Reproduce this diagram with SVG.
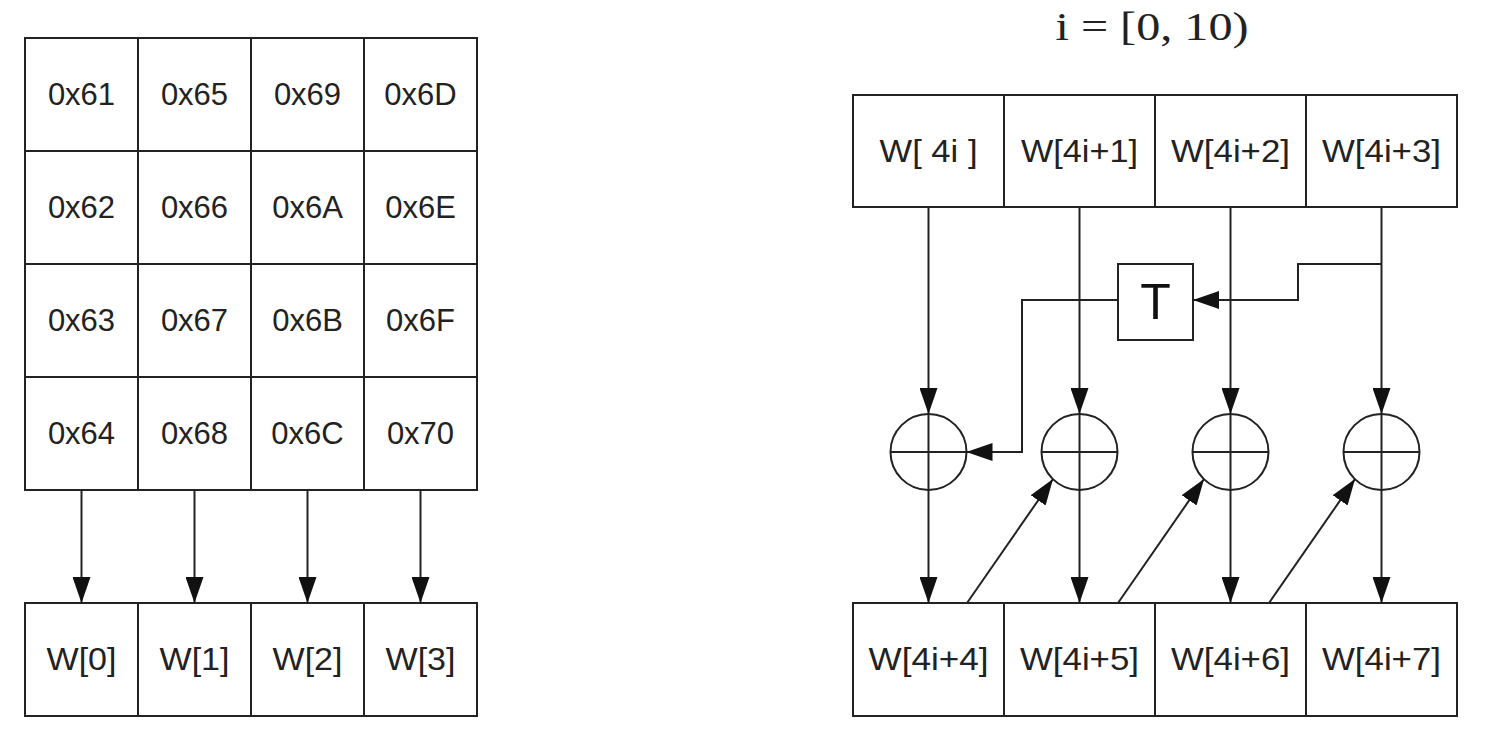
<svg xmlns="http://www.w3.org/2000/svg" width="1488" height="752" viewBox="0 0 1488 752">
<style>
.box{fill:#fff;stroke:#222;stroke-width:2}
.t{font-family:"Liberation Sans",Arial,sans-serif;font-size:31px;fill:#222;text-anchor:middle;dominant-baseline:central}
.ln{fill:none;stroke:#222;stroke-width:2}
.circ{fill:none;stroke:#222;stroke-width:2}
</style>
<defs>
<marker id="ah" markerUnits="userSpaceOnUse" markerWidth="26" markerHeight="18" viewBox="0 0 26 18" refX="26" refY="9" orient="auto">
<path d="M0,0 L26,9 L0,18 Z" fill="#111"/>
</marker>
</defs>
<rect width="1488" height="752" fill="#fff"/>

<g id="state-grid">
<rect class="box" x="25" y="38" width="113" height="113"/><text class="t" x="81.5" y="94.5">0x61</text>
<rect class="box" x="138" y="38" width="113" height="113"/><text class="t" x="194.5" y="94.5">0x65</text>
<rect class="box" x="251" y="38" width="113" height="113"/><text class="t" x="307.5" y="94.5">0x69</text>
<rect class="box" x="364" y="38" width="113" height="113"/><text class="t" x="420.5" y="94.5">0x6D</text>
<rect class="box" x="25" y="151" width="113" height="113"/><text class="t" x="81.5" y="207.5">0x62</text>
<rect class="box" x="138" y="151" width="113" height="113"/><text class="t" x="194.5" y="207.5">0x66</text>
<rect class="box" x="251" y="151" width="113" height="113"/><text class="t" x="307.5" y="207.5">0x6A</text>
<rect class="box" x="364" y="151" width="113" height="113"/><text class="t" x="420.5" y="207.5">0x6E</text>
<rect class="box" x="25" y="264" width="113" height="113"/><text class="t" x="81.5" y="320.5">0x63</text>
<rect class="box" x="138" y="264" width="113" height="113"/><text class="t" x="194.5" y="320.5">0x67</text>
<rect class="box" x="251" y="264" width="113" height="113"/><text class="t" x="307.5" y="320.5">0x6B</text>
<rect class="box" x="364" y="264" width="113" height="113"/><text class="t" x="420.5" y="320.5">0x6F</text>
<rect class="box" x="25" y="377" width="113" height="113"/><text class="t" x="81.5" y="433.5">0x64</text>
<rect class="box" x="138" y="377" width="113" height="113"/><text class="t" x="194.5" y="433.5">0x68</text>
<rect class="box" x="251" y="377" width="113" height="113"/><text class="t" x="307.5" y="433.5">0x6C</text>
<rect class="box" x="364" y="377" width="113" height="113"/><text class="t" x="420.5" y="433.5">0x70</text>
</g>

<g id="w0-3">
<rect class="box" x="25" y="603" width="113" height="113"/><text class="t" x="81.5" y="659.5" textLength="70" lengthAdjust="spacingAndGlyphs">W[0]</text>
<rect class="box" x="138" y="603" width="113" height="113"/><text class="t" x="194.5" y="659.5" textLength="70" lengthAdjust="spacingAndGlyphs">W[1]</text>
<rect class="box" x="251" y="603" width="113" height="113"/><text class="t" x="307.5" y="659.5" textLength="70" lengthAdjust="spacingAndGlyphs">W[2]</text>
<rect class="box" x="364" y="603" width="113" height="113"/><text class="t" x="420.5" y="659.5" textLength="70" lengthAdjust="spacingAndGlyphs">W[3]</text>
</g>

<g id="title">
<text x="1152" y="40" font-family="'Liberation Serif','DejaVu Serif',serif" font-size="40" fill="#222" text-anchor="middle" textLength="193" lengthAdjust="spacingAndGlyphs">i = [0, 10)</text>
</g>

<g id="w-top">
<rect class="box" x="853" y="95" width="151" height="112"/><text class="t" x="928.5" y="151" xml:space="preserve" textLength="98" lengthAdjust="spacingAndGlyphs">W[ 4i ]</text>
<rect class="box" x="1004" y="95" width="151" height="112"/><text class="t" x="1079.5" y="151" textLength="117" lengthAdjust="spacingAndGlyphs">W[4i+1]</text>
<rect class="box" x="1155" y="95" width="151" height="112"/><text class="t" x="1230.5" y="151" textLength="119" lengthAdjust="spacingAndGlyphs">W[4i+2]</text>
<rect class="box" x="1306" y="95" width="151" height="112"/><text class="t" x="1381.5" y="151" textLength="119" lengthAdjust="spacingAndGlyphs">W[4i+3]</text>
</g>

<g id="w-bottom">
<rect class="box" x="853" y="603" width="151" height="113"/><text class="t" x="928.5" y="659.5" textLength="120" lengthAdjust="spacingAndGlyphs">W[4i+4]</text>
<rect class="box" x="1004" y="603" width="151" height="113"/><text class="t" x="1079.5" y="659.5" textLength="119" lengthAdjust="spacingAndGlyphs">W[4i+5]</text>
<rect class="box" x="1155" y="603" width="151" height="113"/><text class="t" x="1230.5" y="659.5" textLength="119" lengthAdjust="spacingAndGlyphs">W[4i+6]</text>
<rect class="box" x="1306" y="603" width="151" height="113"/><text class="t" x="1381.5" y="659.5" textLength="119" lengthAdjust="spacingAndGlyphs">W[4i+7]</text>
</g>

<g id="T">
<rect class="box" x="1118" y="264" width="75" height="76"/>
<text x="1155.5" y="302" font-family="'Liberation Sans',Arial,sans-serif" font-size="50" fill="#111" text-anchor="middle" dominant-baseline="central">T</text>
</g>

<g id="xor1"><circle class="circ" cx="928.5" cy="452" r="38"/><path class="ln" d="M890.5,452 H966.5 M928.5,414 V490"/></g>
<g id="xor2"><circle class="circ" cx="1079.5" cy="452" r="38"/><path class="ln" d="M1041.5,452 H1117.5 M1079.5,414 V490"/></g>
<g id="xor3"><circle class="circ" cx="1230.5" cy="452" r="38"/><path class="ln" d="M1192.5,452 H1268.5 M1230.5,414 V490"/></g>
<g id="xor4"><circle class="circ" cx="1381.5" cy="452" r="38"/><path class="ln" d="M1343.5,452 H1419.5 M1381.5,414 V490"/></g>

<g id="connectors">
<path class="ln" marker-end="url(#ah)" d="M81.5,490 V603"/>
<path class="ln" marker-end="url(#ah)" d="M194.5,490 V603"/>
<path class="ln" marker-end="url(#ah)" d="M307.5,490 V603"/>
<path class="ln" marker-end="url(#ah)" d="M420.5,490 V603"/>

<path class="ln" marker-end="url(#ah)" d="M928.5,207 V414"/>
<path class="ln" marker-end="url(#ah)" d="M1079.5,207 V414"/>
<path class="ln" marker-end="url(#ah)" d="M1230.5,207 V414"/>
<path class="ln" marker-end="url(#ah)" d="M1381.5,207 V414"/>

<path class="ln" marker-end="url(#ah)" d="M928.5,490 V603"/>
<path class="ln" marker-end="url(#ah)" d="M1079.5,490 V603"/>
<path class="ln" marker-end="url(#ah)" d="M1230.5,490 V603"/>
<path class="ln" marker-end="url(#ah)" d="M1381.5,490 V603"/>

<path class="ln" marker-end="url(#ah)" d="M1381.5,264 H1298 V300 H1193"/>
<path class="ln" marker-end="url(#ah)" d="M1118,300 H1022 V452 H966.5"/>

<path class="ln" marker-end="url(#ah)" d="M967,603 L1053,479"/>
<path class="ln" marker-end="url(#ah)" d="M1118,603 L1204,479"/>
<path class="ln" marker-end="url(#ah)" d="M1269,603 L1355,479"/>
</g>
</svg>
